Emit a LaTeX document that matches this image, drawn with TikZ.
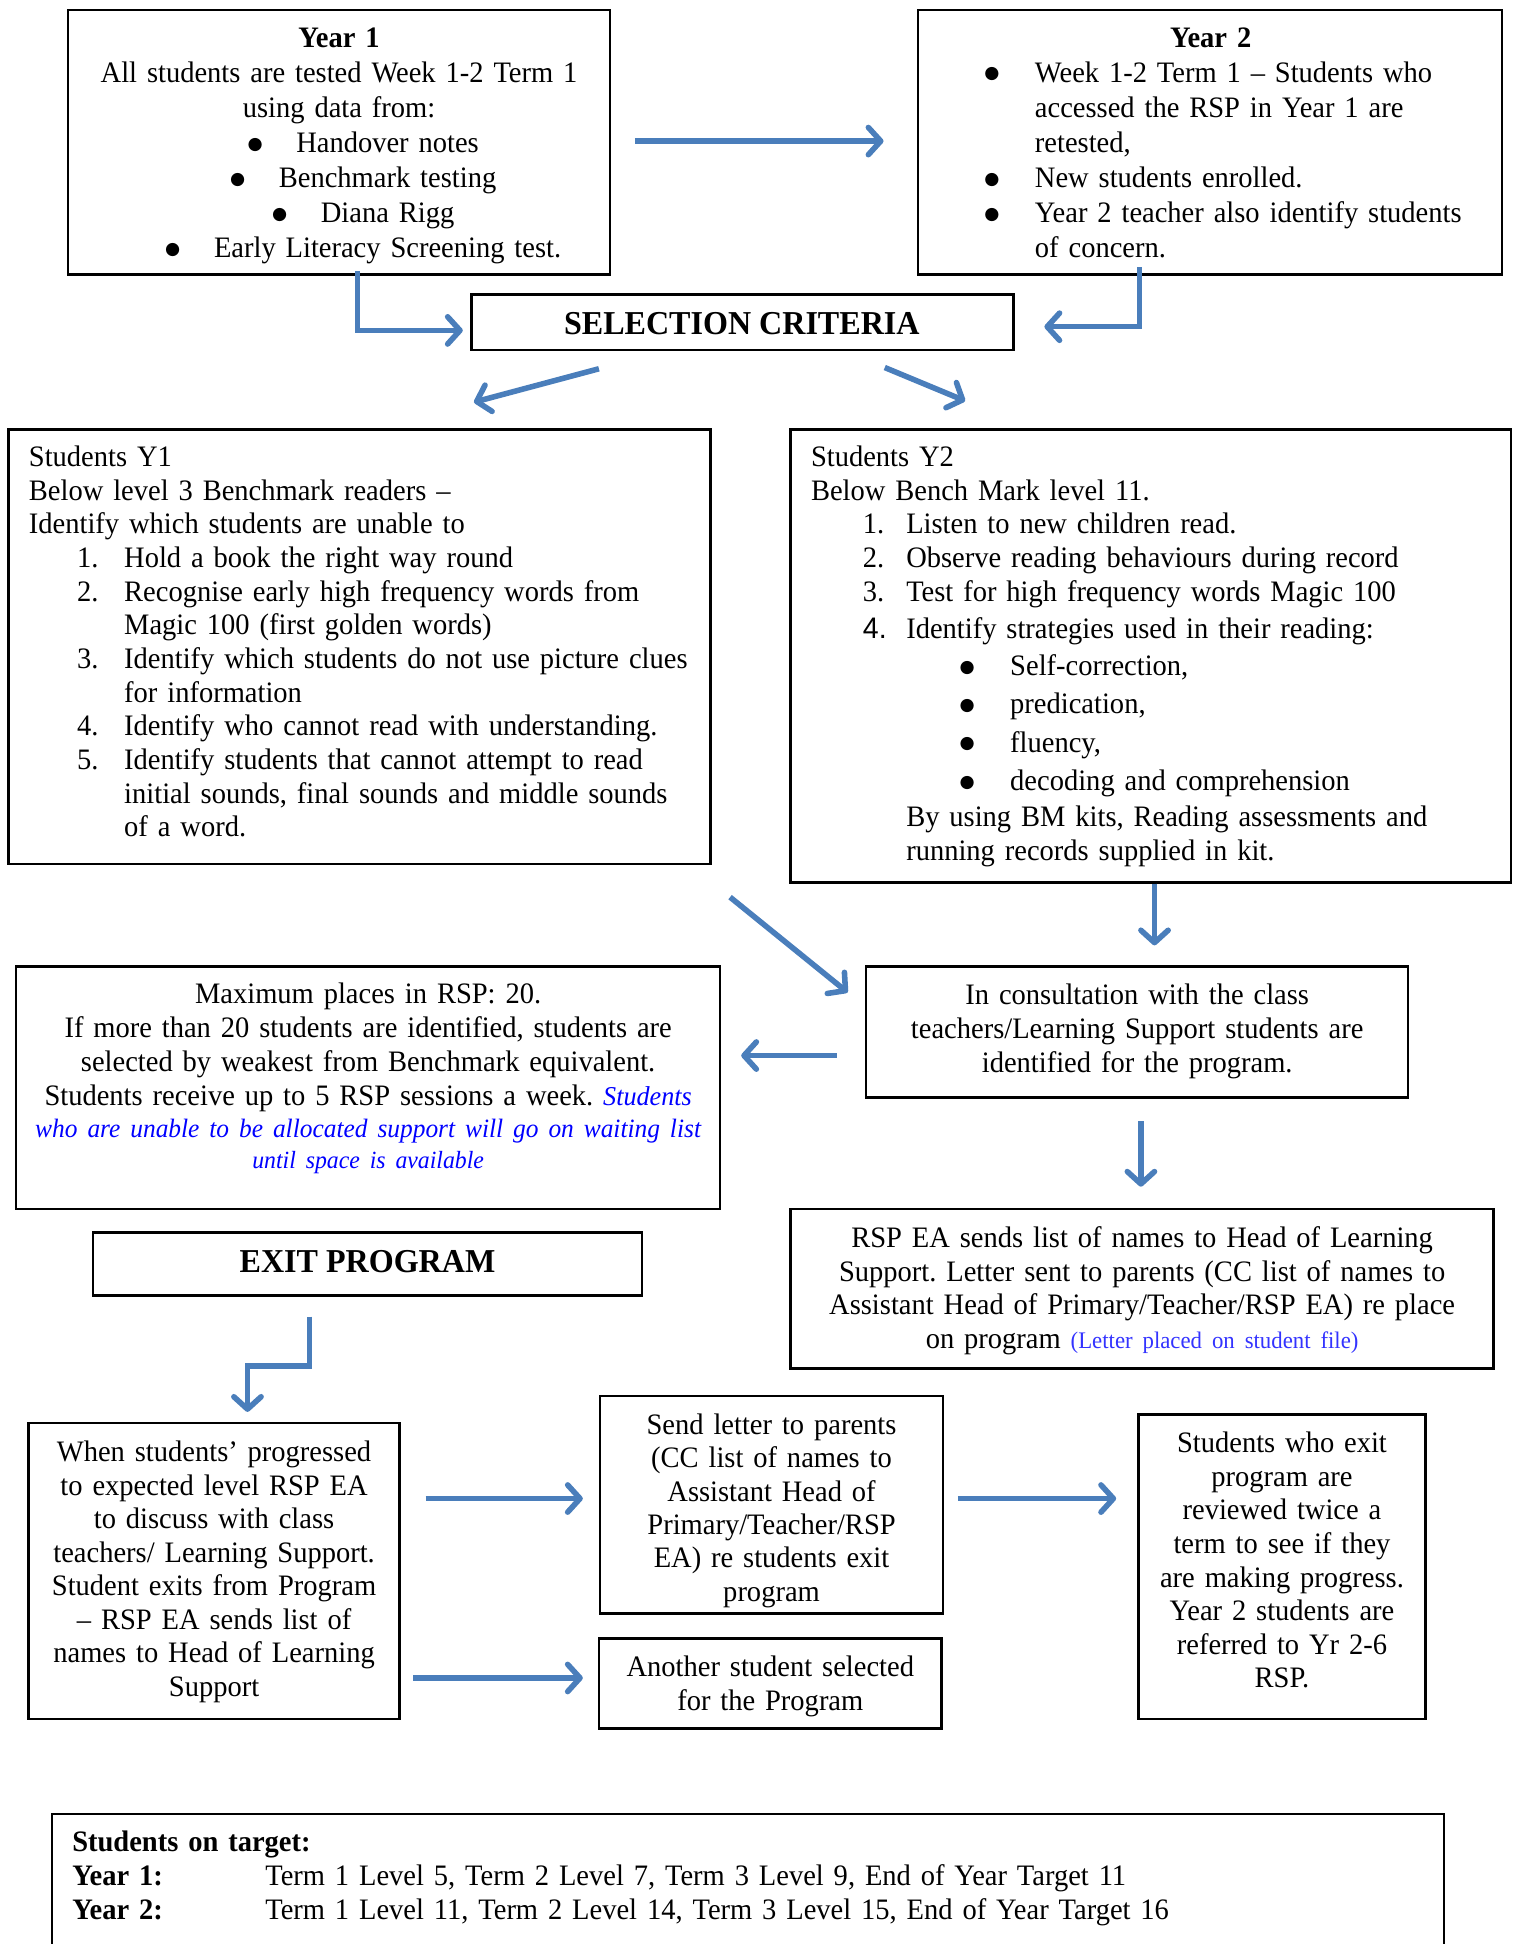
\documentclass[tikz,border=0pt]{standalone}
\usepackage{fontspec}
\setmainfont[FakeStretch=0.96]{Liberation Serif}
\newfontfamily\rspsans[FakeStretch=0.96]{Liberation Sans}
\newfontfamily\rspsym{DejaVu Sans}
\usetikzlibrary{arrows.meta,fit,calc}
\definecolor{arrowblue}{HTML}{4A7EBB}
\definecolor{noteblue}{HTML}{0000FF}
\definecolor{fileblue}{HTML}{3333FF}
\frenchspacing
\newcommand\rspdot{\raisebox{1.3pt}{\rspsym\fontsize{7pt}{7pt}\selectfont ●}}
\newcommand\rspitem[3]{\leavevmode\hspace*{#1}\makebox[#2][l]{#3}}
\newcommand\rspbul{\leavevmode\llap{\rspdot\hspace{14.35pt}}}
\newcommand\rspcbul{\hspace*{19.5pt}\rspdot\hspace{13.6pt}}
\begin{document}
\begin{tikzpicture}[x=0.5pt,y=-0.5pt,
  box/.style={draw=black, line width=1pt, inner sep=0pt},
  txt/.style={inner sep=0pt, font=\fontsize{12pt}{13.7pt}\selectfont},
  txtc/.style={txt, anchor=base, align=center, text width=#1},
  txtc/.default=200pt,
  txtl/.style={txt, anchor=base west, align=left, text width=#1},
  txtl/.default=270pt,
  arr/.style={draw=arrowblue, line width=2.25pt, -{Straight Barb[length=5pt,width=11pt,round]}},
]
\useasboundingbox (0,0) rectangle (1226,1571);

% ---------- boxes ----------
\node[box, fit={(55,8) (493,222)}] (year1) {};
\node[box, fit={(742,8) (1214,222)}] (year2) {};
\node[box, fit={(381,238) (819,283)}] (sel) {};
\node[box, fit={(7,347) (574,698)}] (sY1) {};
\node[box, fit={(639,347) (1221,713)}] (sY2) {};
\node[box, fit={(700,781) (1138,887)}] (consult) {};
\node[box, fit={(13,781) (582,977)}] (maxb) {};
\node[box, fit={(639,977) (1207,1106)}] (rspea) {};
\node[box, fit={(75,996) (519,1047)}] (exitb) {};
\node[box, fit={(23,1150) (323,1389)}] (when) {};
\node[box, fit={(485,1128) (762,1304)}] (send) {};
\node[box, fit={(484,1324) (761,1397)}] (another) {};
\node[box, fit={(920,1143) (1152,1389)}] (sexit) {};
\node[box, fit={(42,1466) (1167,1640)}] (target) {};

% ---------- texts ----------
\node[txtc=212pt, font=\fontsize{12pt}{14.2pt}\selectfont] (year1txt) at (274,38) {\textbf{Year 1}\\
All students are tested Week 1-2 Term 1\\
using data from:\\
\rspcbul Handover notes\\
\rspcbul Benchmark testing\\
\rspcbul Diana Rigg\\
\rspcbul Early Literacy Screening test.};

\node[txtl=185pt, font=\fontsize{12pt}{14.2pt}\selectfont] (year2txt) at (836,38) {\makebox[142pt]{\textbf{Year 2}}\\
\rspbul Week 1-2 Term 1 – Students who\\
accessed the RSP in Year 1 are\\
retested,\\
\rspbul New students enrolled.\\
\rspbul Year 2 teacher also identify students\\
of concern.};

\node[txt, anchor=base, font=\fontsize{13.5pt}{15pt}\selectfont\bfseries] (seltxt) at (599.5,270.5) {SELECTION CRITERIA};

\node[txtl=272pt, font=\fontsize{12pt}{13.6pt}\selectfont] (sY1txt) at (23,377) {Students Y1\\
Below level 3 Benchmark readers –\\
Identify which students are unable to\\
\rspitem{19.5pt}{19pt}{1.}Hold a book the right way round\\
\rspitem{19.5pt}{19pt}{2.}Recognise early high frequency words from\\
\hspace*{38.5pt}Magic 100 (first golden words)\\
\rspitem{19.5pt}{19pt}{3.}Identify which students do not use picture clues\\
\hspace*{38.5pt}for information\\
\rspitem{19.5pt}{19pt}{4.}Identify who cannot read with understanding.\\
\rspitem{19.5pt}{19pt}{5.}Identify students that cannot attempt to read\\
\hspace*{38.5pt}initial sounds, final sounds and middle sounds\\
\hspace*{38.5pt}of a word.};

\node[txtl=278pt, font=\fontsize{12pt}{13.6pt}\selectfont] (sY2txt) at (655,377) {Students Y2\\
Below Bench Mark level 11.\\
\rspitem{21pt}{17.5pt}{1.}Listen to new children read.\\
\rspitem{21pt}{17.5pt}{2.}Observe reading behaviours during record\\
\rspitem{21pt}{17.5pt}{3.}Test for high frequency words Magic 100\\[1.4pt]
\rspitem{21pt}{17.5pt}{\rspsans 4.}Identify strategies used in their reading:\\[1.4pt]
\hspace*{80.5pt}\rspbul Self-correction,\\[1.9pt]
\hspace*{80.5pt}\rspbul predication,\\[1.9pt]
\hspace*{80.5pt}\rspbul fluency,\\[1.9pt]
\hspace*{80.5pt}\rspbul decoding and comprehension\\[0.9pt]
\hspace*{38.5pt}By using BM kits, Reading assessments and\\
\hspace*{38.5pt}running records supplied in kit.};

\node[txtc=212pt, font=\fontsize{12pt}{13.75pt}\selectfont] (consulttxt) at (919,812) {In consultation with the class\\
teachers/Learning Support students are\\
identified for the program.};

\node[txtc=278pt] (maxtxt) at (297.5,811) {Maximum places in RSP: 20.\\
If more than 20 students are identified, students are\\
selected by weakest from Benchmark equivalent.\\
Students receive up to 5 RSP sessions a week. {\color{noteblue}\itshape\fontsize{11pt}{13pt}\selectfont Students}\\[-0.7pt]
{\color{noteblue}\itshape\fontsize{10.7pt}{13pt}\selectfont who are unable to be allocated support will go on waiting list}\\[-1.2pt]
{\color{noteblue}\itshape\fontsize{10pt}{12pt}\selectfont until space is available}};

\node[txtc=278pt, font=\fontsize{12pt}{13.65pt}\selectfont] (rspeatxt) at (923,1008) {RSP EA sends list of names to Head of Learning\\
Support. Letter sent to parents (CC list of names to\\
Assistant Head of Primary/Teacher/RSP EA) re place\\
on program {\color{fileblue}\fontsize{9.6pt}{12pt}\selectfont (Letter placed on student file)}};

\node[txt, anchor=base, font=\fontsize{13.5pt}{15pt}\selectfont\bfseries] (exittxt) at (297,1028.5) {EXIT PROGRAM};

\node[txtc=146pt, font=\fontsize{12pt}{13.57pt}\selectfont] (whentxt) at (173,1181) {When students’ progressed\\
to expected level RSP EA\\
to discuss with class\\
teachers/ Learning Support.\\
Student exits from Program\\
– RSP EA sends list of\\
names to Head of Learning\\
Support};

\node[txtc=134pt, font=\fontsize{12pt}{13.5pt}\selectfont] (sendtxt) at (623.5,1159) {Send letter to parents\\
(CC list of names to\\
Assistant Head of\\
Primary/Teacher/RSP\\
EA) re students exit\\
program};

\node[txtc=134pt, font=\fontsize{12pt}{13.5pt}\selectfont] (anothertxt) at (622.5,1355) {Another student selected\\
for the Program};

\node[txtc=112pt, font=\fontsize{12pt}{13.57pt}\selectfont] (sexittxt) at (1036,1174) {Students who exit\\
program are\\
reviewed twice a\\
term to see if they\\
are making progress.\\
Year 2 students are\\
referred to Yr 2-6\\
RSP.};

\node[txtl=540pt, font=\fontsize{12pt}{13.75pt}\selectfont] (targettxt) at (58,1496) {\textbf{Students on target:}\\
\makebox[78pt][l]{\textbf{Year 1:}}Term 1 Level 5, Term 2 Level 7, Term 3 Level 9, End of Year Target 11\\
\makebox[78pt][l]{\textbf{Year 2:}}Term 1 Level 11, Term 2 Level 14, Term 3 Level 15, End of Year Target 16};

% ---------- arrows ----------
\draw[arr] ($(year1.east)+(19,-1)$) -- ($(year2.west)+(-27,-1)$);
\draw[arr] ($(year1.south)+(15,-4)$) |- ($(sel.west)+(-6,6.5)$);
\draw[arr] ($(year2.south)+(-57,-7)$) |- ($(sel.east)+(24,3.5)$);
\draw[arr] ($(sel.south)+(-116,14)$) -- ($(sY1.north)+(92.5,-21)$);
\draw[arr] ($(sel.south)+(115,13)$) -- ($(sY2.north)+(-150,-22)$);
\draw[arr] ($(sY2.south)+(3,0)$) -- ($(consult.north)+(14,-16)$);
\draw[arr] ($(sY1.south east)+(15,26)$) -- ($(consult.west)+(-14,-32)$);
\draw[arr] ($(consult.west)+(-23,19)$) -- ($(maxb.east)+(16,-26)$);
\draw[arr] ($(consult.south)+(3,18)$) -- ($(rspea.north)+(-1,-17)$);
\draw[arr] ($(exitb.south)+(-47,16)$) -- ++(0,40) -| ($(when.north)+(27,-8)$);
\draw[arr] ($(when.east)+(20,-58.5)$) -- ($(send.west)+(-13,-5)$);
\draw[arr] ($(when.east)+(10,86.5)$) -- ($(another.west)+(-12,-4.5)$);
\draw[arr] ($(send.east)+(11,-5)$) -- ($(sexit.west)+(-17,-55)$);
\end{tikzpicture}
\end{document}
